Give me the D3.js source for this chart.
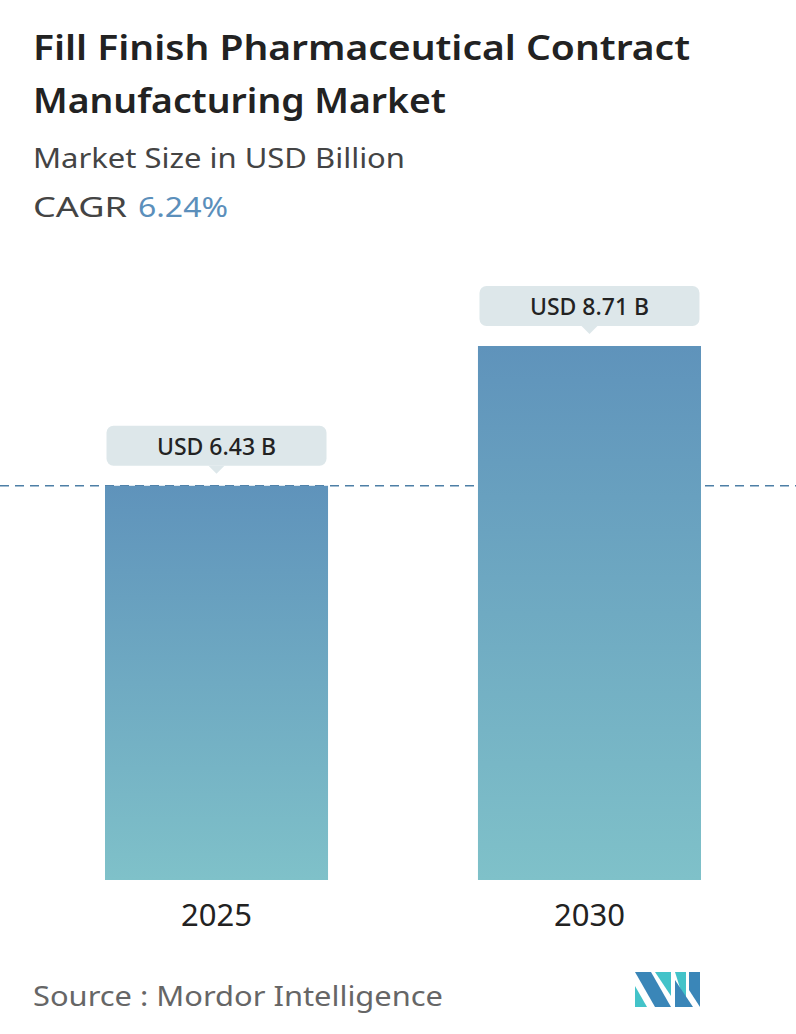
<!DOCTYPE html>
<html><head><meta charset="utf-8">
<script src="https://cdn.jsdelivr.net/npm/d3@7"></script>
<style>body{margin:0;background:#fff}svg{font-family:"Noto Sans",sans-serif}</style>
</head><body><div id="vis"></div>
<script>
const years = ["2025", "2030"];
const values = [6.43, 8.71];
const labels = ["USD 6.43 B", "USD 8.71 B"];

const W = 796, H = 1034;
const svg = d3.select("#vis").append("svg").attr("width", W).attr("height", H);

// gradient for bars
const grad = svg.append("defs").append("linearGradient")
  .attr("id", "barGrad").attr("x1", 0).attr("y1", 0).attr("x2", 0).attr("y2", 1);
grad.append("stop").attr("offset", "0%").attr("stop-color", "#5f93bb");
grad.append("stop").attr("offset", "100%").attr("stop-color", "#7fc1c9");

// titles
svg.append("text").attr("x", 33).attr("y", 60).attr("font-size", 34).attr("font-weight", 600)
  .attr("fill", "#222").attr("textLength", 657).attr("lengthAdjust", "spacingAndGlyphs")
  .text("Fill Finish Pharmaceutical Contract");
svg.append("text").attr("x", 33).attr("y", 113).attr("font-size", 34).attr("font-weight", 600)
  .attr("fill", "#222").attr("textLength", 413).attr("lengthAdjust", "spacingAndGlyphs")
  .text("Manufacturing Market");
svg.append("text").attr("x", 33).attr("y", 168).attr("font-size", 28)
  .attr("fill", "#444").attr("textLength", 372).attr("lengthAdjust", "spacingAndGlyphs")
  .text("Market Size in USD Billion");
svg.append("text").attr("x", 33).attr("y", 217).attr("font-size", 28).attr("fill", "#444")
  .attr("textLength", 94).attr("lengthAdjust", "spacingAndGlyphs").text("CAGR");
svg.append("text").attr("x", 138).attr("y", 217).attr("font-size", 28).attr("fill", "#5b8fbb")
  .attr("textLength", 90).attr("lengthAdjust", "spacingAndGlyphs").text("6.24%");

const x = d3.scaleBand().domain(years).range([105, 701]).paddingInner(0.402).paddingOuter(0);
const y = d3.scaleLinear().domain([0, 8.71]).range([880, 346]);

// dashed reference line at the first value
svg.append("line").attr("x1", 0).attr("x2", W).attr("y1", y(values[0])).attr("y2", y(values[0]))
  .attr("stroke", "#4d7fa6").attr("stroke-width", 1.5).attr("stroke-dasharray", "9,6");

svg.selectAll(".bar").data(values).enter().append("rect")
  .attr("x", (d, i) => x(years[i])).attr("width", x.bandwidth())
  .attr("y", d => y(d)).attr("height", d => y(0) - y(d))
  .attr("fill", "url(#barGrad)");

// callouts
const g = svg.selectAll(".call").data(values).enter().append("g")
  .attr("transform", (d, i) => `translate(${x(years[i]) + x.bandwidth() / 2},${y(d) - 20})`);
g.append("rect").attr("x", -110).attr("y", -40).attr("width", 220).attr("height", 40).attr("rx", 7)
  .attr("fill", "#dde7ea");
g.append("path").attr("d", "M-8,0 L0,8 L8,0 Z").attr("fill", "#dde7ea");
g.append("text").attr("text-anchor", "middle").attr("y", -11).attr("font-size", 23).attr("font-weight", 500)
  .attr("fill", "#222").text((d, i) => labels[i]);

// x labels
svg.selectAll(".yl").data(years).enter().append("text")
  .attr("x", d => x(d) + x.bandwidth() / 2).attr("y", 926).attr("text-anchor", "middle")
  .attr("font-size", 31).attr("fill", "#222").text(d => d);

svg.append("text").attr("x", 33).attr("y", 1006).attr("font-size", 27).attr("fill", "#666")
  .attr("textLength", 410).attr("lengthAdjust", "spacingAndGlyphs")
  .text("Source :  Mordor Intelligence");

// logo
const lg = svg.append("g").attr("transform", "translate(635,972)");
lg.append("path").attr("d", "M0,0 L16,0 L36,35 L20,35 Z").attr("fill", "#3a86b8");
lg.append("path").attr("d", "M0,14 L12,35 L0,35 Z").attr("fill", "#43c3c9");
lg.append("path").attr("d", "M20,0 L36,0 L36,24 Z").attr("fill", "#43c3c9");
lg.append("path").attr("d", "M40,0 L51,0 L51,35 Z").attr("fill", "#43c3c9");
lg.append("path").attr("d", "M40,8 L58,35 L40,35 Z").attr("fill", "#3a86b8");
lg.append("path").attr("d", "M54,0 L65,0 L65,35 L54,18 Z").attr("fill", "#3a86b8");
</script></body></html>
